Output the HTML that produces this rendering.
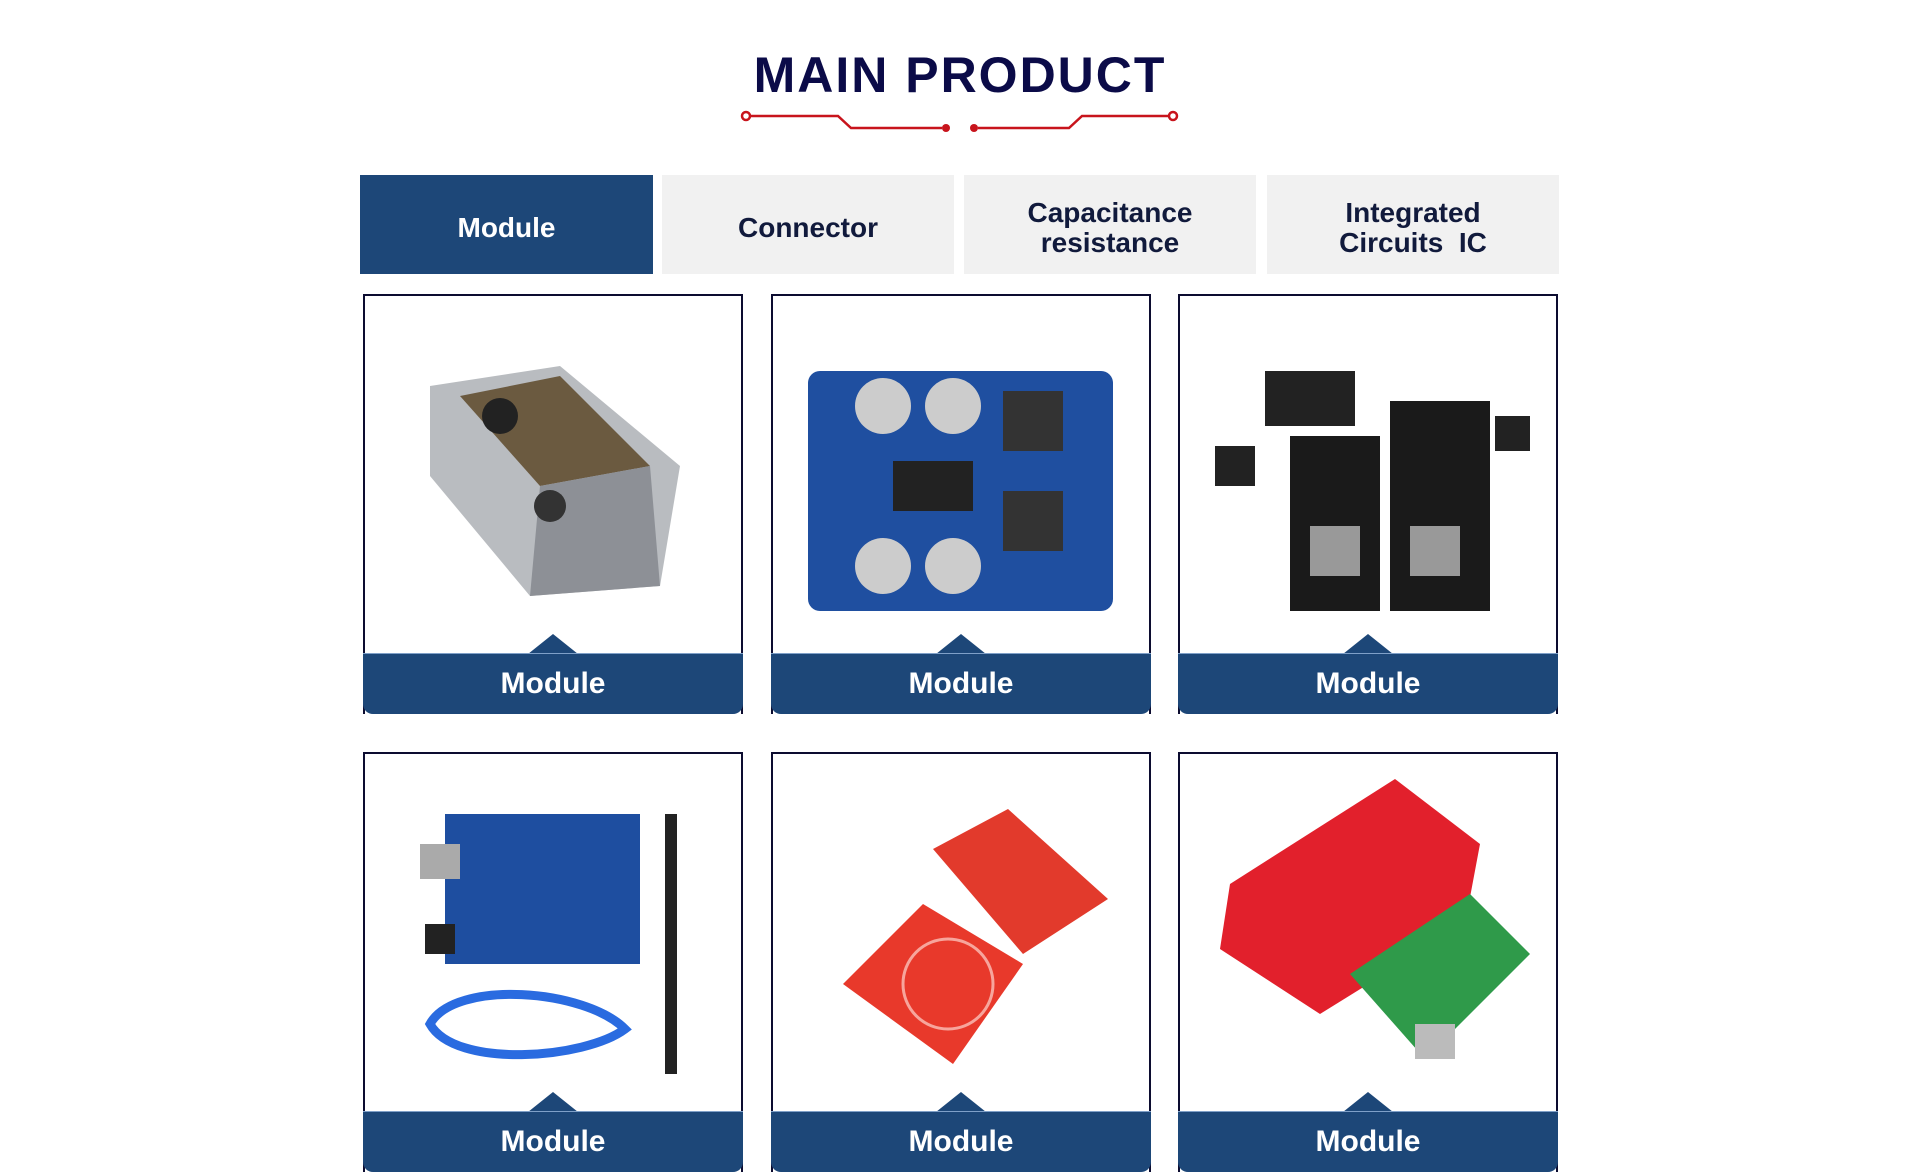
<!DOCTYPE html>
<html><head><meta charset="utf-8"><style>
body{margin:0;width:1920px;height:1174px;background:#fff;overflow:hidden;position:relative;font-family:"Liberation Sans",Arial,sans-serif}
.t{position:absolute;left:0;width:1920px;top:46px;text-align:center;font-size:50px;font-weight:900;color:#0b0b48;letter-spacing:2px}
.tab{position:absolute;top:175px;height:99px;box-sizing:border-box;padding-top:6px;background:#f1f1f1;display:flex;align-items:center;justify-content:center;text-align:center;font-size:28px;font-weight:bold;color:#111a3c;line-height:30px}
.tab.a{background:#1d4778;color:#fff}
.c{position:absolute;width:380px;height:420px;border:2px solid #0c0c30;border-bottom:none;box-sizing:border-box}
.bar{position:absolute;left:-2px;right:-2px;bottom:0;height:60px;background:#1d4778;border-radius:0 0 10px 10px;color:#fff;font-weight:bold;font-size:30px;text-align:center;line-height:60px;border-top:1px solid #7fa0c8}
.tri{position:absolute;left:50%;margin-left:-25px;bottom:60px;width:0;height:0;border-left:25px solid transparent;border-right:25px solid transparent;border-bottom:20px solid #1d4778}
.img{position:absolute}
</style></head><body>
<div class="t">MAIN PRODUCT</div>
<svg style="position:absolute;left:0;top:0" width="1920" height="140">
<g stroke="#c8141c" stroke-width="2.5" fill="none">
<polyline points="750,116 838,116 851,128 942,128"/>
<polyline points="978,128 1069,128 1082,116 1169,116"/>
<circle cx="746" cy="116" r="4" fill="#fff"/><circle cx="1173" cy="116" r="4" fill="#fff"/>
</g>
<circle cx="946" cy="128" r="4" fill="#c8141c"/><circle cx="974" cy="128" r="4" fill="#c8141c"/>
</svg>
<div class="tab a" style="left:360px;width:293px">Module</div>
<div class="tab" style="left:662px;width:292px">Connector</div>
<div class="tab" style="left:964px;width:292px">Capacitance<br>resistance</div>
<div class="tab" style="left:1267px;width:292px">Integrated<br>Circuits&nbsp; IC</div>

<div class="c" style="left:363px;top:294px">
 <svg class="img" style="left:55px;top:60px" width="270" height="250"><polygon points="10,30 140,10 260,110 240,230 110,240 10,120" fill="#b9bcc0"/><polygon points="40,40 140,20 230,110 120,130" fill="#6b5a40"/><polygon points="120,130 230,110 240,230 110,240" fill="#8d9096"/><circle cx="80" cy="60" r="18" fill="#222"/><circle cx="130" cy="150" r="16" fill="#333"/></svg>
 <div class="tri"></div><div class="bar">Module</div></div>
<div class="c" style="left:771px;top:294px">
 <svg class="img" style="left:30px;top:70px" width="310" height="250"><rect x="5" y="5" width="305" height="240" rx="12" fill="#1f4fa0"/><circle cx="80" cy="40" r="28" fill="#ccc"/><circle cx="150" cy="40" r="28" fill="#ccc"/><circle cx="80" cy="200" r="28" fill="#ccc"/><circle cx="150" cy="200" r="28" fill="#ccc"/><rect x="200" y="25" width="60" height="60" fill="#333"/><rect x="200" y="125" width="60" height="60" fill="#333"/><rect x="90" y="95" width="80" height="50" fill="#222"/></svg>
 <div class="tri"></div><div class="bar">Module</div></div>
<div class="c" style="left:1178px;top:294px">
 <svg class="img" style="left:30px;top:70px" width="320" height="250"><rect x="55" y="5" width="90" height="55" fill="#222"/><rect x="80" y="70" width="90" height="175" fill="#1a1a1a"/><rect x="180" y="35" width="100" height="210" fill="#1a1a1a"/><rect x="5" y="80" width="40" height="40" fill="#222"/><rect x="285" y="50" width="35" height="35" fill="#222"/><rect x="100" y="160" width="50" height="50" fill="#999"/><rect x="200" y="160" width="50" height="50" fill="#999"/></svg>
 <div class="tri"></div><div class="bar">Module</div></div>

<div class="c" style="left:363px;top:752px">
 <svg class="img" style="left:50px;top:55px" width="280" height="270"><rect x="30" y="5" width="195" height="150" fill="#1e4ea0"/><rect x="5" y="35" width="40" height="35" fill="#aaa"/><rect x="10" y="115" width="30" height="30" fill="#222"/><rect x="250" y="5" width="12" height="260" fill="#222"/><path d="M15,215 C40,170 170,180 210,220 C170,250 40,260 15,215Z" fill="none" stroke="#2a6be0" stroke-width="9"/></svg>
 <div class="tri"></div><div class="bar">Module</div></div>
<div class="c" style="left:771px;top:752px">
 <svg class="img" style="left:60px;top:50px" width="280" height="260"><polygon points="100,45 175,5 275,95 190,150" fill="#e23a2c"/><polygon points="10,180 90,100 190,160 120,260" fill="#e8392b"/><circle cx="115" cy="180" r="45" fill="none" stroke="#f7a59c" stroke-width="3"/></svg>
 <div class="tri"></div><div class="bar">Module</div></div>
<div class="c" style="left:1178px;top:752px">
 <svg class="img" style="left:30px;top:20px" width="320" height="310"><polygon points="20,110 185,5 270,70 255,150 110,240 10,175" fill="#e2202c"/><polygon points="140,200 260,120 320,180 215,285" fill="#2f9a4a"/><rect x="205" y="250" width="40" height="35" fill="#bbb"/></svg>
 <div class="tri"></div><div class="bar">Module</div></div>
</body></html>
